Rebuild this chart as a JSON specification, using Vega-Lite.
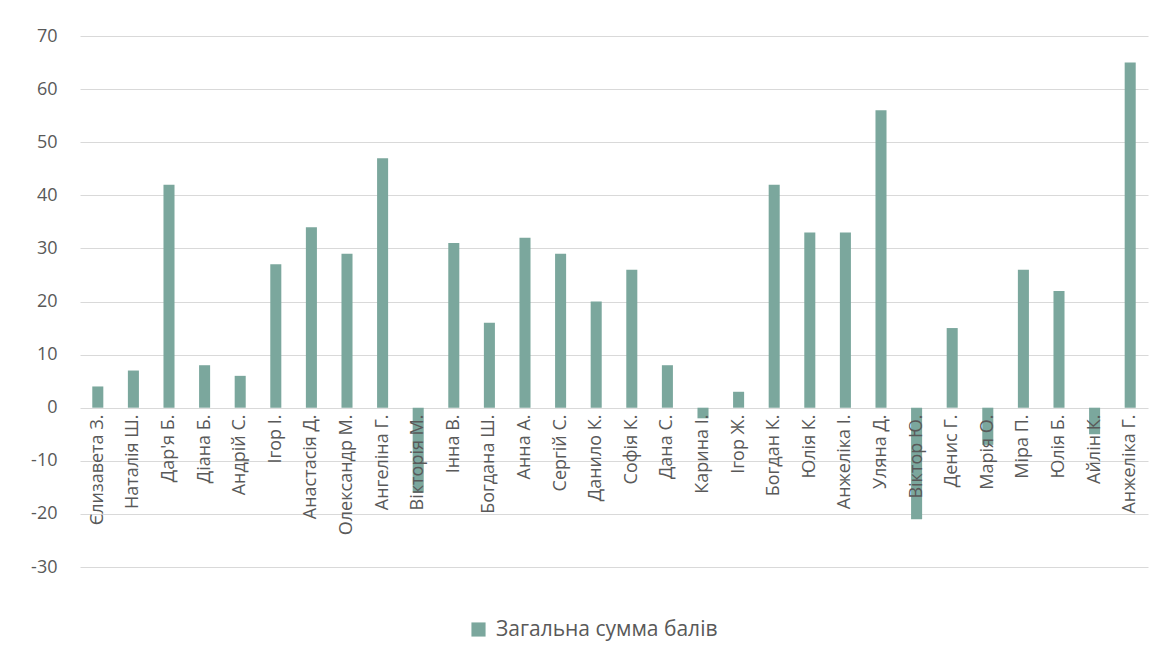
{
  "$schema": "https://vega.github.io/schema/vega-lite/v6.json",
  "autosize": {"type": "none"},
  "width": 1068,
  "height": 531,
  "padding": {"left": 80, "top": 36, "right": 14, "bottom": 99},
  "background": "white",
  "data": {"values": [
    {"name": "Єлизавета З.", "score": 4},
    {"name": "Наталія Ш.", "score": 7},
    {"name": "Дар'я Б.", "score": 42},
    {"name": "Діана Б.", "score": 8},
    {"name": "Андрій С.", "score": 6},
    {"name": "Ігор І.", "score": 27},
    {"name": "Анастасія Д.", "score": 34},
    {"name": "Олександр М.", "score": 29},
    {"name": "Ангеліна Г.", "score": 47},
    {"name": "Вікторія М.", "score": -16},
    {"name": "Інна В.", "score": 31},
    {"name": "Богдана Ш.", "score": 16},
    {"name": "Анна А.", "score": 32},
    {"name": "Сергій С.", "score": 29},
    {"name": "Данило К.", "score": 20},
    {"name": "Софія К.", "score": 26},
    {"name": "Дана С.", "score": 8},
    {"name": "Карина І.", "score": -2},
    {"name": "Ігор Ж.", "score": 3},
    {"name": "Богдан К.", "score": 42},
    {"name": "Юлія К.", "score": 33},
    {"name": "Анжеліка І.", "score": 33},
    {"name": "Уляна Д.", "score": 56},
    {"name": "Віктор Ю.", "score": -21},
    {"name": "Денис Г.", "score": 15},
    {"name": "Марія О.", "score": -7},
    {"name": "Міра П.", "score": 26},
    {"name": "Юлія Б.", "score": 22},
    {"name": "Айлін К.", "score": -5},
    {"name": "Анжеліка Г.", "score": 65}
  ]},
  "mark": {"type": "bar"},
  "encoding": {
    "x": {
      "field": "name", "type": "nominal", "sort": null,
      "scale": {"paddingInner": 0.69, "paddingOuter": 0.345},
      "axis": {
        "title": null, "labelAngle": -90, "labelAlign": "right", "labelBaseline": "middle",
        "offset": -159, "domain": false, "ticks": false, "labelPadding": 6, "zindex": 1,
        "labelFont": "Open Sans", "labelFontSize": 18, "labelColor": "#595959", "labelOverlap": false, "labelLimit": 300
      }
    },
    "y": {
      "field": "score", "type": "quantitative",
      "scale": {"domain": [-30, 70], "nice": false, "zero": false},
      "axis": {
        "title": null, "values": [-30, -20, -10, 0, 10, 20, 30, 40, 50, 60, 70],
        "labelExpr": "'' + datum.value",
        "domain": false, "ticks": false, "labelPadding": 23,
        "labelFont": "Open Sans", "labelFontSize": 18, "labelColor": "#595959",
        "gridColor": "#d9d9d9", "gridWidth": 1
      }
    },
    "color": {
      "datum": "Загальна сумма балів",
      "scale": {"range": ["#7BA79D"]},
      "legend": {
        "title": null, "orient": "none", "legendX": 388, "legendY": 583,
        "symbolType": "square", "symbolSize": 200, "symbolStrokeWidth": 0,
        "labelLimit": 500, "labelOffset": 7,
        "labelFont": "Open Sans", "labelFontSize": 21, "labelColor": "#595959"
      }
    }
  },
  "config": {"view": {"stroke": null}}
}
